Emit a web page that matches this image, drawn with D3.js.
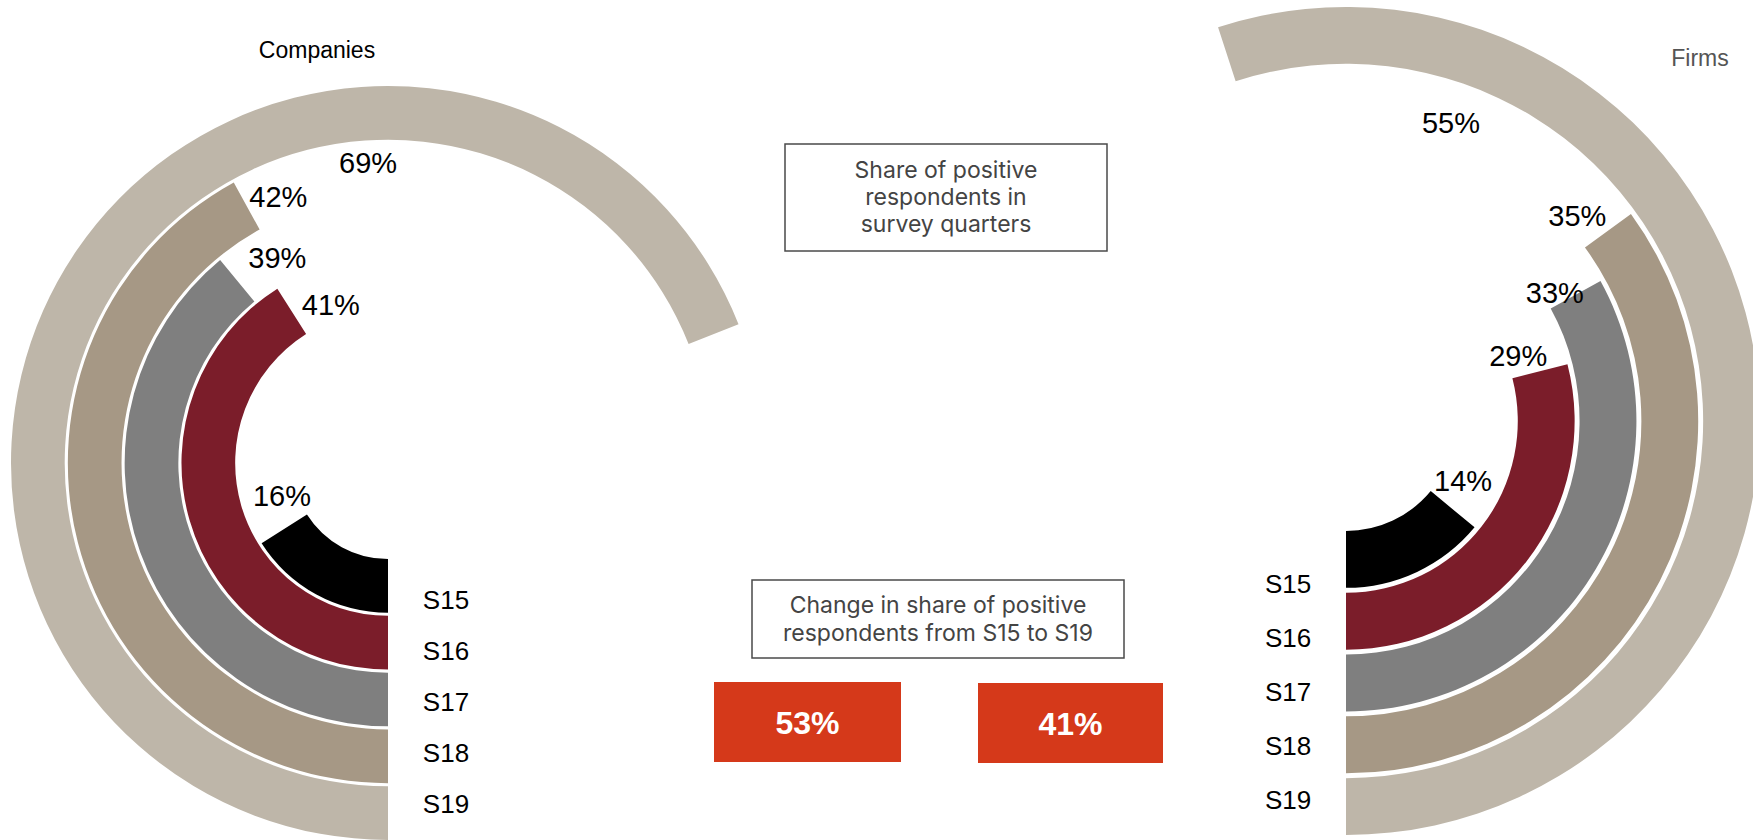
<!DOCTYPE html>
<html>
<head>
<meta charset="utf-8">
<script src="https://cdn.jsdelivr.net/npm/d3@7"></script>
<style>
  html, body { margin: 0; padding: 0; background: #ffffff; }
  svg { display: block; }
</style>
</head>
<body>
<svg id="chart" width="1753" height="840"></svg>
<script>
// Survey quarters, innermost ring first
const quarters = ["S15", "S16", "S17", "S18", "S19"];

// Share of positive respondents (%) per quarter
const companiesShare = [16, 41, 39, 42, 69];
const firmsShare = [14, 29, 33, 35, 55];

const groupNames = ["Companies", "Firms"];
const ringColors = ["#000000", "#7B1D2A", "#7F7F7F", "#A69885", "#BEB6A9"];

const topNoteLines = ["Share of positive", "respondents in", "survey quarters"];
const changeNoteLines = ["Change in share of positive", "respondents from S15 to S19"];

const svg = d3.select("#chart");

// Angle scale: a full circle is 100 %
const angle = d3.scaleLinear().domain([0, 100]).range([0, 2 * Math.PI]);

// Two half-donut panels; rings start at the bottom and sweep away from the middle.
// labelNudge: [degrees past the ring tip, radial shift from ring middle] for the inner rings.
const panels = [
  { name: groupNames[0], values: companiesShare, cx: 388, cy: 463, r: [96, 377], pad: 0.055, dir: 1,
    title: { x: 317, y: 58, color: "#000000" },
    labelNudge: [[15.5, -12], [12.6, -11], [11.3, -3], [6.4, -5.5]],
    outerLabel: { deg: -3.8, inset: 22 },
    qX: 58, qY: [600, 804] },
  { name: groupNames[1], values: firmsShare, cx: 1346, cy: 421, r: [110, 414], pad: 0.08, dir: -1,
    title: { x: 1700, y: 66, color: "#555555" },
    labelNudge: [[12.6, -7], [6.4, -16], [2.7, -17], [5.6, -14.5]],
    outerLabel: { deg: 19.4, inset: 41 },
    qX: -58, qY: [584, 800] }
];

const pctFont = "'Liberation Sans', Arial, sans-serif";
const rad = d => d * Math.PI / 180;

panels.forEach(p => {
  const radius = d3.scaleBand().domain(quarters).range(p.r).paddingInner(p.pad).paddingOuter(0);
  const bw = radius.bandwidth();
  const qPos = d3.scalePoint().domain(quarters).range(p.qY);
  const g = svg.append("g").attr("transform", `translate(${p.cx},${p.cy})`);

  const rows = quarters.map((q, i) => {
    const start = Math.PI;
    const end = Math.PI + p.dir * angle(p.values[i]);
    return { q, v: p.values[i], color: ringColors[i], inner: radius(q), outer: radius(q) + bw,
             start: Math.min(start, end), end: Math.max(start, end), tip: end };
  });

  const arc = d3.arc().innerRadius(d => d.inner).outerRadius(d => d.outer)
    .startAngle(d => d.start).endAngle(d => d.end);

  g.selectAll("path.ring").data(rows).join("path")
    .attr("class", "ring")
    .attr("d", arc)
    .attr("fill", d => d.color);

  // Percentage labels just beyond the tip of each ring; the outer ring's label sits inside it
  g.selectAll("text.pct").data(rows).join("text")
    .attr("class", "pct")
    .each(function (d, i) {
      let a, r;
      if (i === rows.length - 1) {
        a = rad(p.outerLabel.deg);
        r = d.inner - p.outerLabel.inset;
      } else {
        const [dDeg, dR] = p.labelNudge[i];
        a = d.tip + p.dir * rad(dDeg);
        r = d.inner + bw / 2 + dR;
      }
      d3.select(this)
        .attr("x", r * Math.sin(a))
        .attr("y", -r * Math.cos(a))
        .attr("dy", "0.36em");
    })
    .attr("text-anchor", "middle")
    .attr("font-family", pctFont)
    .attr("font-size", 29)
    .attr("fill", "#000")
    .text(d => d.v + "%");

  // Quarter names beside the ring starts
  g.selectAll("text.quarter").data(rows).join("text")
    .attr("class", "quarter")
    .attr("x", p.qX)
    .attr("y", d => qPos(d.q) - p.cy)
    .attr("dy", "0.36em")
    .attr("text-anchor", "middle")
    .attr("font-family", pctFont)
    .attr("font-size", 26)
    .attr("fill", "#000")
    .text(d => d.q);

  svg.append("text")
    .attr("x", p.title.x).attr("y", p.title.y)
    .attr("text-anchor", "middle")
    .attr("font-family", pctFont)
    .attr("font-size", 23)
    .attr("fill", p.title.color)
    .text(p.name);
});

// Framed notes in the middle
const noteFont = "Inter, 'Open Sans', sans-serif";
function note(box, lines, firstBaseline, lineGap) {
  svg.append("rect")
    .attr("x", box.x).attr("y", box.y).attr("width", box.w).attr("height", box.h)
    .attr("fill", "#fff").attr("stroke", "#4a4a4a").attr("stroke-width", 1.5);
  svg.append("g").selectAll("text").data(lines).join("text")
    .attr("x", box.x + box.w / 2)
    .attr("y", (d, i) => firstBaseline + i * lineGap)
    .attr("text-anchor", "middle")
    .attr("font-family", noteFont)
    .attr("font-size", 23)
    .attr("fill", "#444")
    .text(d => d);
}
note({ x: 785, y: 144, w: 322, h: 107 }, topNoteLines, 178, 27);
note({ x: 752, y: 580, w: 372, h: 78 }, changeNoteLines, 613, 28);

// Change from first to last quarter, in percentage points
const changes = panels.map(p => p.values[p.values.length - 1] - p.values[0]);
const changeBoxes = [{ x: 714, y: 682, w: 187, h: 80 }, { x: 978, y: 683, w: 185, h: 80 }];
changes.forEach((c, i) => {
  const b = changeBoxes[i];
  svg.append("rect").attr("x", b.x).attr("y", b.y).attr("width", b.w).attr("height", b.h)
    .attr("fill", "#D5391A");
  svg.append("text")
    .attr("x", b.x + b.w / 2).attr("y", b.y + b.h / 2)
    .attr("dy", "0.36em")
    .attr("text-anchor", "middle")
    .attr("font-family", pctFont)
    .attr("font-weight", "bold")
    .attr("font-size", 32)
    .attr("fill", "#fff")
    .text(c + "%");
});
</script>
</body>
</html>
